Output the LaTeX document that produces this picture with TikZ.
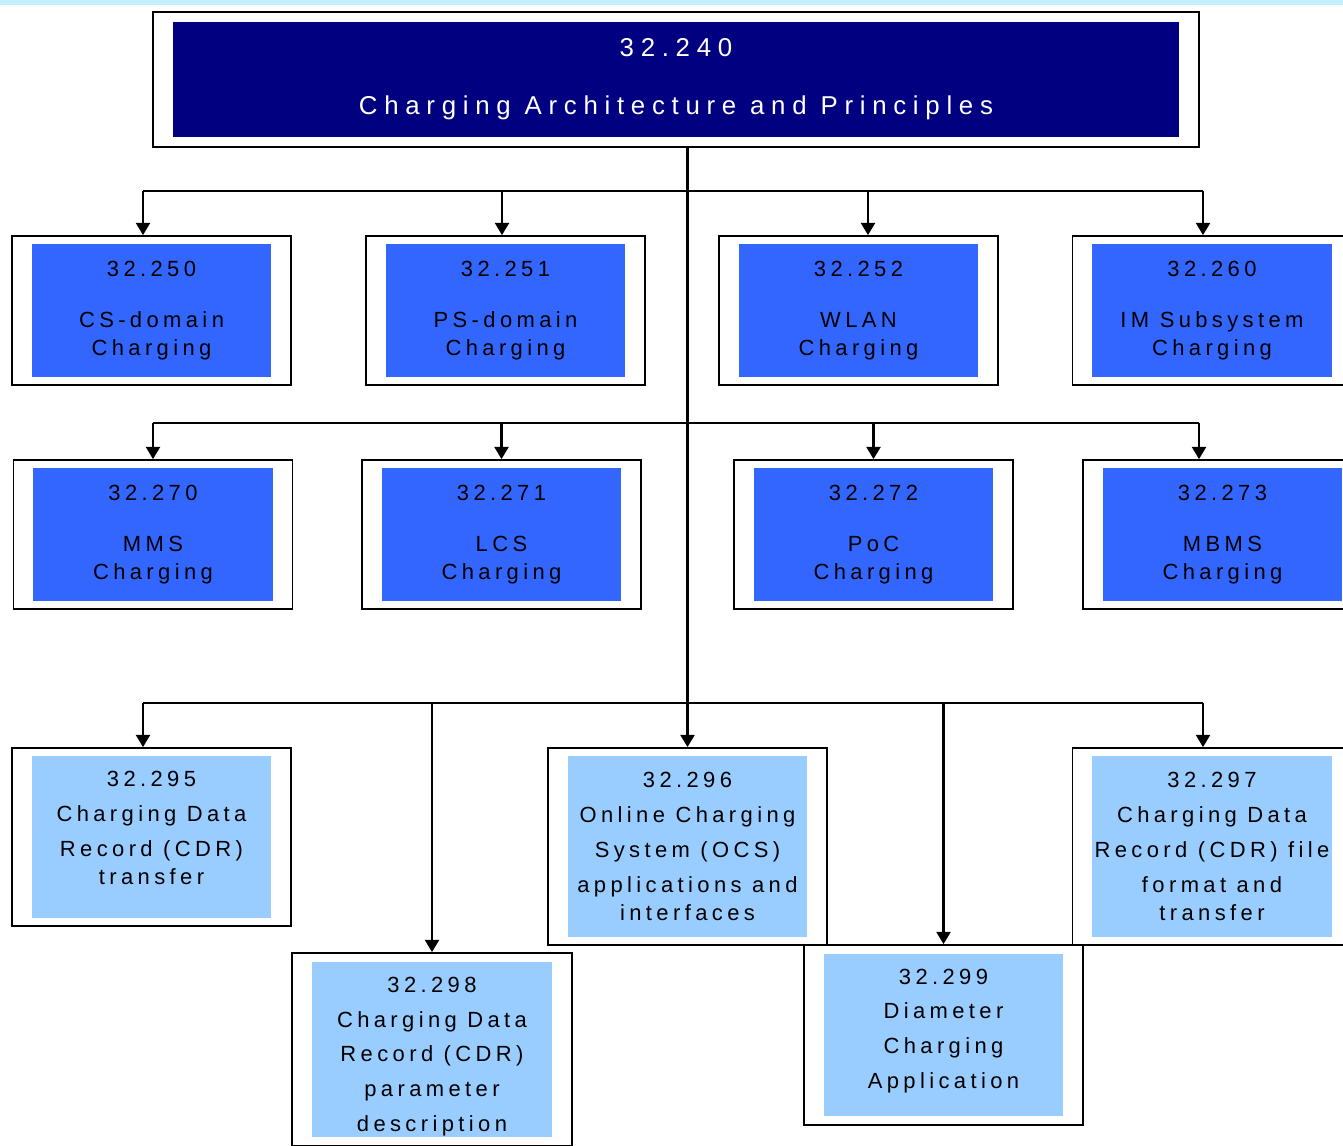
\documentclass[tikz,border=0pt]{standalone}
\usepackage{fontspec}
\setmainfont{Liberation Sans}
\newfontfamily\boxfont[LetterSpace=20]{Liberation Sans}
\newfontfamily\headfont[LetterSpace=26]{Liberation Sans}
\usetikzlibrary{arrows.meta}
\definecolor{navy}{HTML}{000080}
\definecolor{specblue}{HTML}{3366FF}
\definecolor{paleblue}{HTML}{99CCFF}
\definecolor{topstrip}{HTML}{C4EFFF}
\tikzset{
    every node/.style={draw, line width=1pt, inner sep=0pt, align=center}
}
\tikzset{
    every edge/.append style={line width=1.3pt, -{Triangle[width=8pt,length=7pt]}}
}
\tikzset{
    frame/.style={minimum width=5.58cm, minimum height=2.98cm},
    spec/.style={draw=none, fill=specblue, minimum width=4.8cm, minimum height=2.66cm,
    	font=\boxfont\fontsize{12.5}{15.9}\selectfont},
    lowspec/.style={spec, fill=paleblue},
    words/.style={draw=none, font=\boxfont\fontsize{12.5}{15.9}\selectfont},
    bus/.style={line width=1.3pt}
}

\begin{document}
\begin{tikzpicture}[x=0.02cm, y=-0.02cm]
	\useasboundingbox (0,0) rectangle (1343,1146);
	\clip (0,0) rectangle (1343,1146);
	\fill[topstrip] (0,0) rectangle (1343,5);

	\node (top) [minimum width=20.92cm, minimum height=2.7cm] at (676,79.5) {};
	\node (itop) [draw=none, fill=navy, text=white, minimum width=20.14cm,
		minimum height=2.32cm, font=\headfont\fontsize{14.7}{18}\selectfont]
		at (top) {32.240\\[14.9pt]Charging Architecture and Principles};

	% first row
	\node (s250) [frame] at (151.5,310.5) {};
	\node (s251) [frame] at (505.5,310.5) {};
	\node (s252) [frame] at (858.5,310.5) {};
	\node (s260) [frame] at (1212,310.5) {};
	\node (i250) [spec] at (s250) {32.250\\[13.6pt]CS-domain\\Charging};
	\node (i251) [spec] at (s251) {32.251\\[13.6pt]PS-domain\\Charging};
	\node (i252) [spec] at (s252) {32.252\\[13.6pt]WLAN\\Charging};
	\node (i260) [spec] at (s260) {32.260\\[13.6pt]IM Subsystem\\Charging};

	% second row
	\node (s270) [frame] at (153,534.5) {};
	\node (s271) [frame] at (501.5,534.5) {};
	\node (s272) [frame] at (873.5,534.5) {};
	\node (s273) [frame] at (1222.5,534.5) {};
	\node (i270) [spec] at (s270) {32.270\\[13.6pt]MMS\\Charging};
	\node (i271) [spec] at (s271) {32.271\\[13.6pt]LCS\\Charging};
	\node (i272) [spec] at (s272) {32.272\\[13.6pt]PoC\\Charging};
	\node (i273) [spec] at (s273) {32.273\\[13.6pt]MBMS\\Charging};

	% third row
	\node (s295) [frame, minimum height=3.56cm] at (151.5,837) {};
	\node (s296) [frame, minimum height=3.94cm] at (687.5,846.5) {};
	\node (s297) [frame, minimum height=3.94cm] at (1212,846.5) {};
	\node (s298) [frame, minimum width=5.6cm, minimum height=3.86cm] at (432,1049.5) {};
	\node (s299) [frame, minimum height=3.6cm] at (943.5,1035) {};
	\node (i295) [lowspec, minimum height=3.24cm] at (s295) {};
	\node (t295) [words] at ([yshift=5.1pt]i295)
		{32.295\\[3.9pt]Charging Data\\[3.9pt]Record (CDR)\\transfer};
	\node (i296) [lowspec, minimum height=3.64cm] at (s296)
		{32.296\\[3.9pt]Online Charging\\[3.9pt]System (OCS)\\[3.9pt]applications and\\interfaces};
	\node (i297) [lowspec, minimum height=3.64cm] at (s297)
		{32.297\\[3.9pt]Charging Data\\[3.9pt]Record (CDR) file\\[3.9pt]format and\\transfer};
	\node (i298) [lowspec, minimum height=3.5cm] at (s298) {};
	\node (t298) [words] at ([yshift=-4pt]i298)
		{32.298\\[3.9pt]Charging Data\\[3.9pt]Record (CDR)\\[3.9pt]parameter\\[3.9pt]description};
	\node (i299) [lowspec, minimum height=3.26cm] at (s299) {};
	\node (t299) [words] at ([yshift=2.3pt]i299)
		{32.299\\[3.9pt]Diameter\\[3.9pt]Charging\\[3.9pt]Application};

	% buses
	\coordinate (a250) at (143,191);
	\coordinate (a260) at (1203,191);
	\coordinate (a251) at (502,191);
	\coordinate (a252) at (868,191);
	\coordinate (a270) at (153,423);
	\coordinate (a273) at (1199,423);
	\coordinate (a295) at (143,703);
	\coordinate (a297) at (1203,703);

	\draw (s296.north |- top.south) edge (s296.north);
	\draw[bus] (a250) -- (a260);
	\draw[bus] (a270) -- (a273);
	\draw[bus] (a295) -- (a297);

	\draw (a250) edge (a250 |- s250.north); \draw (a251) edge (a251 |- s251.north);
	\draw (a252) edge (a252 |- s252.north); \draw (a260) edge (a260 |- s260.north);
	\draw (a270) edge (a270 |- s270.north); \draw (s271.north |- a270) edge (s271.north);
	\draw (s272.north |- a270) edge (s272.north); \draw (a273) edge (a273 |- s273.north);
	\draw (a295) edge (a295 |- s295.north); \draw (s298.north |- a295) edge (s298.north);
	\draw (s299.north |- a295) edge (s299.north); \draw (a297) edge (a297 |- s297.north);
\end{tikzpicture}
\end{document}
